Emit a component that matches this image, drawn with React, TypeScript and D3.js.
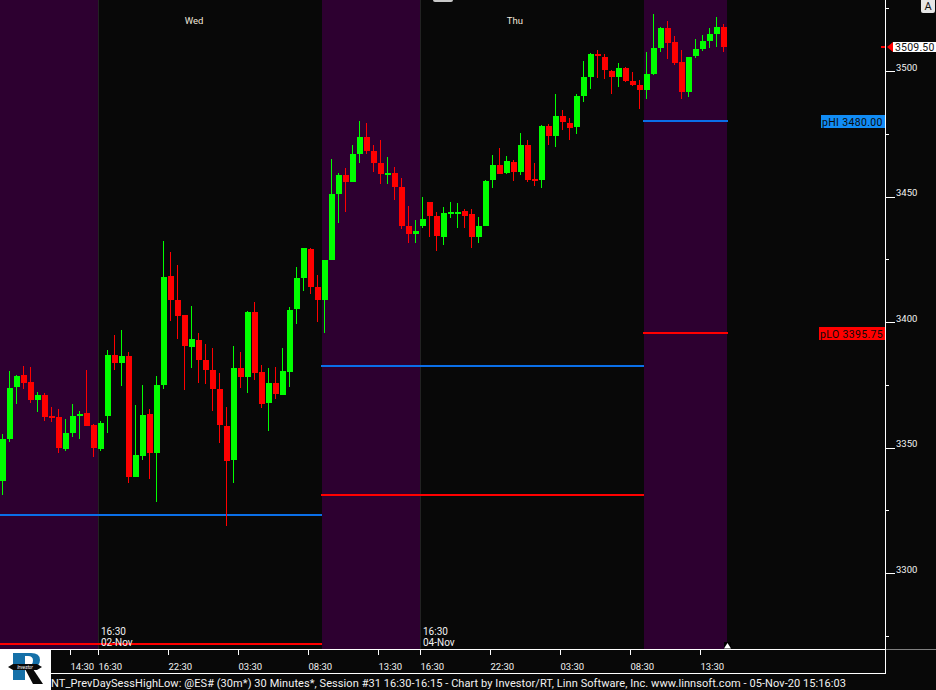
import * as d3 from "d3"
import { useEffect, useRef } from "react"

// @ES# 30 minute bars
const opens = [
  3336.75, 3353.5, 3374, 3379, 3376, 3369, 3371, 3362.5, 3362.25, 3349.5, 3355.75, 3362.5, 3363.75, 3359,
  3349.5, 3362.5, 3387, 3383.75, 3386.5, 3338.25, 3346.5, 3363.25, 3347.75, 3375, 3418.25, 3408.75, 3402.75, 3390,
  3392.75, 3385, 3381, 3373.25, 3358.5, 3345, 3381.75, 3378, 3404, 3380, 3367.75, 3375.75, 3371, 3380,
  3405.25, 3417.5, 3429, 3414, 3408.75, 3424.75, 3451, 3458.5, 3455.75, 3467, 3473.75, 3468, 3463.25, 3458.5,
  3459.5, 3453.75, 3438.25, 3435, 3438.25, 3447.75, 3442.25, 3434, 3443, 3443, 3444.25, 3443, 3434, 3438.25,
  3456.5, 3462.5, 3459.5, 3463.75, 3459.75, 3470.5, 3457, 3456.5, 3478, 3474, 3482, 3479.25, 3477.75, 3490,
  3497.5, 3506.75, 3505.5, 3500, 3497.5, 3501.25, 3496, 3494.5, 3492.5, 3498.75, 3509.25, 3517, 3511.5, 3503.5,
  3491.5, 3506, 3508.75, 3512, 3514.75, 3517.5,
]
const highs = [
  3355.5, 3380.5, 3379, 3382.5, 3382, 3372, 3371.75, 3366, 3365.25, 3361.5, 3367.25, 3364.5, 3381, 3359.5,
  3360.5, 3388.75, 3394.75, 3396.75, 3388, 3367, 3375, 3365.25, 3378.5, 3432.25, 3428, 3422.75, 3402.75, 3406.5,
  3395.5, 3391.25, 3389.5, 3379.75, 3366, 3390.5, 3388, 3404.5, 3408, 3383, 3381.75, 3382, 3389.5, 3406,
  3422, 3429.5, 3429.5, 3418.75, 3424.75, 3465, 3459.5, 3461.5, 3470.5, 3480, 3479.25, 3470.5, 3472.5, 3465.75,
  3461.75, 3457.5, 3446.25, 3440.5, 3449.75, 3447.75, 3443.75, 3445.75, 3447.75, 3447.5, 3445, 3445, 3441.75, 3456.5,
  3466.5, 3469.25, 3466, 3464.5, 3475.25, 3472.5, 3463.25, 3478.5, 3479, 3490.75, 3484.5, 3481.25, 3490.75, 3504,
  3507.25, 3508.25, 3506.75, 3500.5, 3503.25, 3501.5, 3499.5, 3496.5, 3507.5, 3522.75, 3517.5, 3520, 3514, 3508.25,
  3505.5, 3512.75, 3514.25, 3517, 3521.5, 3518.75,
]
const lows = [
  3331, 3352, 3367.5, 3373.25, 3367.75, 3364, 3360.5, 3360.25, 3347.75, 3348.5, 3354.25, 3353.5, 3358.5, 3346.25,
  3348.5, 3355.75, 3381, 3374.5, 3336, 3338.25, 3345, 3337.5, 3328.25, 3373.25, 3400.5, 3393.25, 3373, 3381.75,
  3375.75, 3375.25, 3364.5, 3351.75, 3318.75, 3336, 3373.75, 3371.75, 3377, 3365.75, 3356.5, 3369.25, 3371, 3374,
  3399.25, 3412.25, 3411.25, 3400, 3395.5, 3424.75, 3439.5, 3443.75, 3455.75, 3463.25, 3467, 3459.75, 3455, 3455,
  3448.5, 3437, 3431.5, 3431.5, 3437.5, 3434, 3428.25, 3430.75, 3441.5, 3437.5, 3437.5, 3429.5, 3431.5, 3438.25,
  3453.5, 3459, 3459, 3456.25, 3458.5, 3455.75, 3454.25, 3453.5, 3470.5, 3469.75, 3476.5, 3472.5, 3475, 3487.5,
  3492.75, 3497.25, 3496.75, 3490.75, 3493.5, 3495.5, 3494, 3484.75, 3488.75, 3498.5, 3507.5, 3504.75, 3502.5, 3488.75,
  3489.5, 3505.25, 3508, 3509.25, 3509.5, 3507.5,
]
const closes = [
  3353.5, 3373.75, 3378.5, 3375.75, 3369, 3371, 3362.25, 3362.25, 3349.75, 3355.75, 3362.5, 3363.25, 3358.5, 3349.75,
  3359.75, 3387, 3383.75, 3386.5, 3338.25, 3347, 3363, 3347.75, 3375, 3418, 3408.75, 3402.5, 3390.5, 3393.25,
  3385, 3381, 3373.25, 3359, 3344.5, 3381.75, 3378, 3404, 3379.75, 3367.25, 3375.75, 3371.25, 3380.5, 3404.75,
  3417.5, 3429.5, 3414, 3408.75, 3424.75, 3451, 3458.5, 3455.75, 3467, 3473.75, 3468, 3463.25, 3459, 3459.5,
  3453.75, 3438.25, 3435, 3436.25, 3441, 3442.25, 3434.25, 3443.5, 3443.75, 3443.75, 3442.25, 3434, 3438.25, 3456.25,
  3462.5, 3459, 3464, 3459.75, 3470.5, 3456.5, 3456.5, 3478, 3474, 3482, 3479.75, 3477.25, 3490, 3497.5,
  3506.75, 3506, 3500.5, 3497.5, 3501.25, 3496, 3494.5, 3492.5, 3498.75, 3509.25, 3517, 3511.25, 3503.25, 3491.5,
  3505.5, 3508.75, 3512, 3514.75, 3517.5, 3509.5,
]

// session boundaries as bar numbers, every other session is the day one
const sessionBars = [0, 14, 46, 60, 92, 104]
const dayStarts = [0, 46, 92]
const dayEnds = [46, 92, 104]
const prevHigh = [3323, 3382.5, 3480]
const prevLow = [3271.75, 3331, 3395.75]

const timeTickBars = [10, 14, 24, 34, 44, 54, 60, 70, 80, 90, 100]
const timeTickLabels = ["14:30", "16:30", "22:30", "03:30", "08:30", "13:30", "16:30", "22:30", "03:30", "08:30", "13:30"]
const priceTicks = [3275, 3300, 3325, 3350, 3375, 3400, 3425, 3450, 3475, 3500, 3525]
const priceLabels = [3300, 3350, 3400, 3450, 3500]
const dayLabels = ["Wed", "Thu"]
const dayLabelBars = [26.4, 72.4]
const dateBars = [14, 60]
const dateLabels = ["02-Nov", "04-Nov"]
const lastPrice = 3509.5
const footer =
  "NT_PrevDaySessHighLow: @ES# (30m*) 30 Minutes*, Session #31 16:30-16:15 - Chart by Investor/RT, Linn Software, Inc. www.linnsoft.com - 05-Nov-20 15:16:03"

const GREEN = "#00ff00"
const RED = "#ff0000"
const BLUE = "#0a6fe8"
const BG = "#080808"
const PURPLE = "#2d0030"
const FONT = "Roboto, 'Liberation Sans', sans-serif"

export default function App() {
  const svgRef = useRef<SVGSVGElement | null>(null)

  useEffect(() => {
    if (!svgRef.current) return
    const svg = d3.select(svgRef.current)
    svg.selectAll("*").remove()

    const width = 936
    const height = 690
    const axisX = 885
    const plotBottom = 649
    const stripBottom = 673

    // one bar every 7px
    const x = d3.scaleLinear().domain([0, 1]).range([0, 7])
    const y = d3.scaleLinear().domain([3500, 3400]).range([71, 322])

    svg.append("rect").attr("width", width).attr("height", height).attr("fill", BG)

    const plot = svg.append("g").attr("shape-rendering", "crispEdges")

    // Sessions
    d3.pairs(sessionBars).forEach(([a, b], i) => {
      const dayOne = i % 2 === 0
      if (dayOne) {
        plot
          .append("rect")
          .attr("x", x(a))
          .attr("y", 0)
          .attr("width", x(b) - x(a) - (b === 104 ? 1 : 0))
          .attr("height", plotBottom)
          .attr("fill", PURPLE)
      } else {
        plot.append("rect").attr("x", x(a)).attr("y", 0).attr("width", 1).attr("height", plotBottom).attr("fill", "#222")
      }
    })
    plot.append("rect").attr("x", x(60)).attr("y", 0).attr("width", 1).attr("height", plotBottom).attr("fill", "#222")

    // Session date text sits under the level lines
    dateBars.forEach((b, i) => {
      const g = svg.append("g").attr("font-family", FONT).attr("font-size", 10).attr("fill", "#f2f2f2")
      g.append("text").attr("x", x(b) + 3).attr("y", 635).text("16:30")
      g.append("text").attr("x", x(b) + 3).attr("y", 646).text(dateLabels[i])
    })

    dayLabels.forEach((t, i) => {
      svg
        .append("text")
        .attr("x", x(dayLabelBars[i]))
        .attr("y", 24)
        .attr("font-family", FONT)
        .attr("font-size", 9.5)
        .attr("fill", "#f0e6da")
        .text(t)
    })

    // Previous session high / low
    const levels = plot.append("g")
    dayStarts.forEach((s, i) => {
      const x0 = s === 0 ? 0 : x(s) - 1
      levels
        .append("rect")
        .attr("x", x0)
        .attr("y", y(prevHigh[i]) - 1)
        .attr("width", x(dayEnds[i]) - x0)
        .attr("height", 2)
        .attr("fill", BLUE)
      levels
        .append("rect")
        .attr("x", x0)
        .attr("y", y(prevLow[i]) - 1)
        .attr("width", x(dayEnds[i]) - x0)
        .attr("height", 2)
        .attr("fill", RED)
    })

    // Candles
    const bars = d3.range(opens.length)
    const candle = plot
      .selectAll("g.candle")
      .data(bars)
      .enter()
      .append("g")
      .attr("class", "candle")
      .attr("fill", (i) => (closes[i] >= opens[i] ? GREEN : RED))

    candle
      .append("rect")
      .attr("x", (i) => x(i) + 2)
      .attr("y", (i) => y(highs[i]))
      .attr("width", 1)
      .attr("height", (i) => y(lows[i]) - y(highs[i]))

    candle
      .append("rect")
      .attr("x", (i) => x(i))
      .attr("y", (i) => y(Math.max(opens[i], closes[i])))
      .attr("width", 6)
      .attr("height", (i) => Math.max(2, y(Math.min(opens[i], closes[i])) - y(Math.max(opens[i], closes[i]))))

    // Bottom strip
    svg.append("rect").attr("x", 0).attr("y", plotBottom).attr("width", width).attr("height", height - plotBottom).attr("fill", BG)
    svg.append("rect").attr("x", axisX).attr("y", plotBottom).attr("width", width - axisX).attr("height", 1).attr("fill", "#808080")
    svg.append("rect").attr("x", 0).attr("y", plotBottom).attr("width", axisX).attr("height", 1).attr("fill", "#fff")
    svg.append("rect").attr("x", 0).attr("y", stripBottom).attr("width", axisX + 1).attr("height", 1).attr("fill", "#fff")
    svg.append("rect").attr("x", axisX).attr("y", 0).attr("width", 1).attr("height", stripBottom).attr("fill", "#fff")

    const timeAxis = svg
      .append("g")
      .attr("transform", `translate(0,${plotBottom + 1})`)
      .call(
        d3
          .axisBottom(x)
          .tickValues(timeTickBars)
          .tickSize(5)
          .tickFormat((_, i) => timeTickLabels[i])
      )
    timeAxis.select(".domain").remove()
    timeAxis.selectAll("line").attr("stroke", "#fff").attr("shape-rendering", "crispEdges")
    timeAxis
      .selectAll("text")
      .attr("y", 20)
      .attr("dy", 0)
      .attr("text-anchor", "start")
      .attr("fill", "#f2f2f2")
      .attr("font-family", FONT)
      .attr("font-size", 9.5)

    const priceAxis = svg
      .append("g")
      .attr("transform", `translate(${axisX + 1},0)`)
      .call(
        d3
          .axisRight(y)
          .tickValues(priceTicks)
          .tickSize(9)
          .tickFormat((d) => (priceLabels.includes(+d) ? String(d) : ""))
      )
    priceAxis.select(".domain").remove()
    priceAxis
      .selectAll("line")
      .attr("stroke", "#fff")
      .attr("shape-rendering", "crispEdges")
      .attr("x2", (d: any) => (priceLabels.includes(d) ? 9 : 3))
    priceAxis
      .selectAll("text")
      .attr("x", 10)
      .attr("dy", -1)
      .attr("fill", "#f2f2f2")
      .attr("font-family", FONT)
      .attr("font-size", 9.5)

    // Level labels on the axis
    const levelLabel = (value: number, name: string, fill: string, left: number) => {
      const yy = Math.round(y(value))
      svg
        .append("rect")
        .attr("x", left)
        .attr("y", yy - 6)
        .attr("width", axisX - left)
        .attr("height", 13)
        .attr("fill", fill)
        .attr("shape-rendering", "crispEdges")
      svg
        .append("text")
        .attr("x", left + 1)
        .attr("y", yy + 5)
        .attr("font-family", FONT)
        .attr("font-size", 10.5)
        .attr("letter-spacing", 0.35)
        .attr("fill", "#0a0a0a")
        .text(`${name} ${value.toFixed(2)}`)
    }
    levelLabel(prevHigh[2], "pHI", "#118cf5", 821)
    levelLabel(prevLow[2], "pLO", RED, 819)

    // Last price marker
    const ly = Math.round(y(lastPrice))
    svg.append("rect").attr("x", 881).attr("y", ly - 1).attr("width", 4).attr("height", 2).attr("fill", RED).attr("shape-rendering", "crispEdges")
    svg.append("path").attr("d", `M887,${ly}L893,${ly - 5}V${ly + 5}Z`).attr("fill", RED)
    svg.append("rect").attr("x", 893).attr("y", ly - 5).attr("width", 43).attr("height", 10).attr("fill", "#fff").attr("shape-rendering", "crispEdges")
    svg
      .append("text")
      .attr("x", 895)
      .attr("y", ly + 4)
      .attr("font-family", FONT)
      .attr("font-size", 10.5)
      .attr("letter-spacing", 0.2)
      .attr("fill", "#111")
      .text(lastPrice.toFixed(2))

    // End of data marker
    svg.append("rect").attr("x", 724).attr("y", 642).attr("width", 7).attr("height", 7).attr("fill", "#000")
    svg.append("path").attr("d", "M727.5,643L731,648.5H724Z").attr("fill", "#fff")

    // Buttons along the top
    svg.append("rect").attr("x", 921).attr("y", -2).attr("width", 14).attr("height", 15).attr("rx", 2).attr("fill", "#e6e6e6")
    svg
      .append("text")
      .attr("x", 928)
      .attr("y", 10)
      .attr("text-anchor", "middle")
      .attr("font-family", FONT)
      .attr("font-size", 11)
      .attr("fill", "#111")
      .text("A")
    svg.append("rect").attr("x", 433).attr("y", -3).attr("width", 20).attr("height", 5).attr("rx", 2).attr("fill", "#c8c8c8")

    // Footer
    svg
      .append("text")
      .attr("x", 51)
      .attr("y", 687)
      .attr("font-family", FONT)
      .attr("font-size", 11)
      .attr("textLength", 795)
      .attr("fill", "#f2f2f2")
      .text(footer)

    // Logo
    const logo = svg.append("g")
    logo.append("rect").attr("x", 0).attr("y", plotBottom).attr("width", 51).attr("height", height - plotBottom).attr("fill", "#fff")
    logo
      .append("path")
      .attr("fill-rule", "evenodd")
      .attr("fill", "#1570a8")
      .attr("d", "M13,653H31Q40,653 40,660Q40,667 31,669L25,669V680H13ZM25,656V666H28Q33,665 33,660.5Q33,656 28,656Z")
    logo.append("path").attr("fill", "#0a0a0a").attr("d", "M25,669H33L43,684H33Z")
    logo.append("path").attr("fill", "#0a0a0a").attr("d", "M8,667L13,664H37L42,667L37,670H13Z")
    logo
      .append("text")
      .attr("x", 25)
      .attr("y", 669)
      .attr("text-anchor", "middle")
      .attr("font-family", FONT)
      .attr("font-size", 4.5)
      .attr("font-style", "italic")
      .attr("fill", "#fff")
      .text("Investor")
  }, [])

  return <svg ref={svgRef} width={936} height={690} style={{ position: "absolute", left: 0, top: 0 }} />
}
